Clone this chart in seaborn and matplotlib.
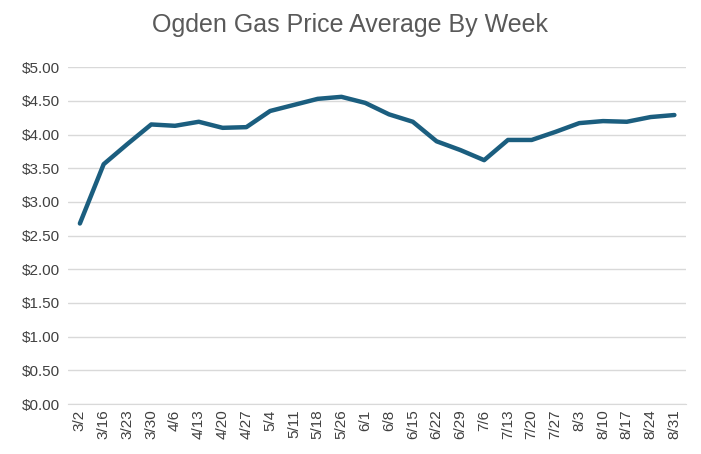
import matplotlib
matplotlib.use("Agg")
import matplotlib.pyplot as plt
import seaborn as sns
import pandas as pd

weeks = ["3/2", "3/16", "3/23", "3/30", "4/6", "4/13", "4/20", "4/27", "5/4", "5/11",
         "5/18", "5/26", "6/1", "6/8", "6/15", "6/22", "6/29", "7/6", "7/13", "7/20",
         "7/27", "8/3", "8/10", "8/17", "8/24", "8/31"]
prices = [2.68, 3.56, 3.86, 4.15, 4.13, 4.19, 4.10, 4.11, 4.35, 4.44,
          4.53, 4.56, 4.47, 4.30, 4.19, 3.90, 3.77, 3.62, 3.92, 3.92,
          4.04, 4.17, 4.20, 4.19, 4.26, 4.29]

df = pd.DataFrame({"week": weeks, "price": prices, "pos": range(len(weeks))})

sns.set_style("white")
plt.rcParams['font.family'] = ['Liberation Sans', 'DejaVu Sans']

fig = plt.figure(figsize=(7.01, 4.54), dpi=100)
ax = fig.add_axes([0.097, 0.11, 0.882, 0.742])

sns.lineplot(data=df, x="pos", y="price", ax=ax, color="#1B5E7F", linewidth=3.2)

ax.set_xlim(-0.5, len(weeks) - 0.5)
ax.set_ylim(0, 5)
ax.set_yticks([i * 0.5 for i in range(11)])
ax.set_yticklabels([f"${i * 0.5:.2f}" for i in range(11)], fontsize=11, color="#404040")
ax.set_xticks(range(len(weeks)))
ax.set_xticklabels(weeks, rotation=90, fontsize=11, color="#404040")
ax.tick_params(axis="y", length=0, pad=6)
ax.tick_params(axis="x", length=0, pad=4)
ax.grid(axis="y", color="#d9d9d9", linewidth=1)
ax.set_axisbelow(True)
for s in ["top", "right", "left"]:
    ax.spines[s].set_visible(False)
ax.spines["bottom"].set_color("#d9d9d9")
ax.set_xlabel("")
ax.set_ylabel("")

fig.text(0.5, 0.945, "Ogden Gas Price Average By Week", ha="center", va="center",
         fontsize=18, color="#595959")

fig.savefig("out.png", dpi=100)
